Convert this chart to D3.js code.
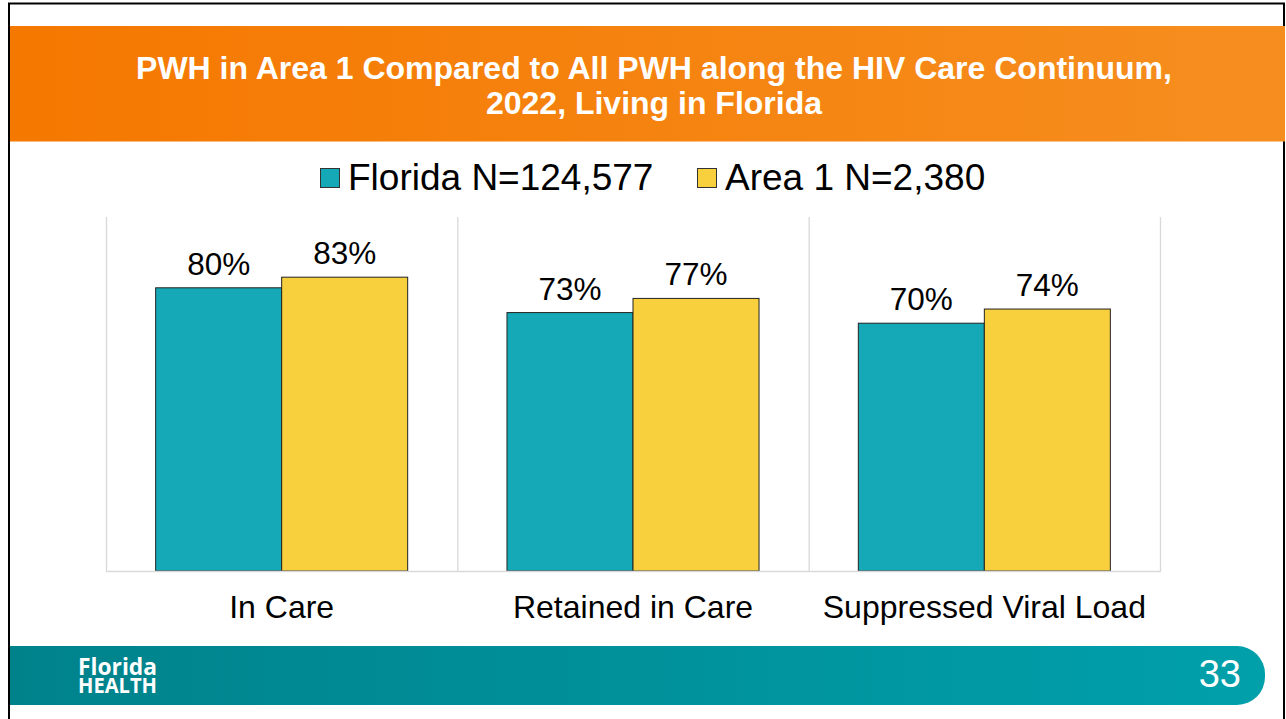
<!DOCTYPE html>
<html>
<head>
<meta charset="utf-8">
<script src="https://cdn.jsdelivr.net/npm/d3@7"></script>
<style>
  html, body { margin: 0; padding: 0; background: #fff; }
  svg { display: block; font-family: "Liberation Sans", Arial, sans-serif; }
</style>
</head>
<body>
<div id="chart"></div>
<script>
// data
const categories = ["In Care", "Retained in Care", "Suppressed Viral Load"];
const seriesNames = ["Florida N=124,577", "Area 1 N=2,380"];
const floridaValues = [80, 73, 70];
const area1Values = [83, 77, 74];
const titleLines = ["PWH in Area 1 Compared to All PWH along the HIV Care Continuum,", "2022, Living in Florida"];
const slideNumber = "33";

const width = 1286, height = 719;
const colors = ["#15A9B7", "#F8CF3D"];

const svg = d3.select("#chart").append("svg")
  .attr("width", width)
  .attr("height", height);

const defs = svg.append("defs");
const og = defs.append("linearGradient").attr("id", "orangeGrad")
  .attr("x1", "0%").attr("y1", "0%").attr("x2", "100%").attr("y2", "0%");
og.append("stop").attr("offset", "0%").attr("stop-color", "#F57800");
og.append("stop").attr("offset", "100%").attr("stop-color", "#F68E1F");
const tg = defs.append("linearGradient").attr("id", "tealGrad")
  .attr("x1", "0%").attr("y1", "0%").attr("x2", "100%").attr("y2", "0%");
tg.append("stop").attr("offset", "0%").attr("stop-color", "#00828B");
tg.append("stop").attr("offset", "100%").attr("stop-color", "#00A0AB");

// slide frame
svg.append("rect")
  .attr("x", 9).attr("y", 3.5).attr("width", 1275).attr("height", 730)
  .attr("fill", "none").attr("stroke", "#000").attr("stroke-width", 2);

// header band
svg.append("rect")
  .attr("x", 10).attr("y", 26).attr("width", 1275).attr("height", 115.5)
  .attr("fill", "url(#orangeGrad)");

svg.append("g").selectAll("text")
  .data(titleLines)
  .join("text")
  .attr("x", 654)
  .attr("y", (d, i) => 79 + i * 35)
  .attr("text-anchor", "middle")
  .attr("fill", "#fff")
  .attr("font-weight", "bold")
  .attr("font-size", 32)
  .text(d => d);

// footer band with rounded right end
const fy = 646, fh = 59, fr = 28, fx0 = 10, fx1 = 1265;
svg.append("path")
  .attr("d", `M${fx0},${fy} H${fx1 - fr} A${fr},${fr} 0 0 1 ${fx1},${fy + fr} V${fy + fh - fr} A${fr},${fr} 0 0 1 ${fx1 - fr},${fy + fh} H${fx0} Z`)
  .attr("fill", "url(#tealGrad)");

// logo, one text with two lines
const logo = svg.append("text").attr("fill", "#fff")
  .attr("font-family", "'Open Sans', sans-serif").attr("font-weight", 700);
logo.append("tspan").attr("x", 78).attr("y", 674.5)
  .attr("font-size", 22.5).attr("textLength", 79).attr("lengthAdjust", "spacingAndGlyphs")
  .text("Florida");
logo.append("tspan").attr("x", 78).attr("y", 692.5)
  .attr("font-size", 21).attr("textLength", 79).attr("lengthAdjust", "spacingAndGlyphs")
  .text("HEALTH");

svg.append("text")
  .attr("x", 1241).attr("y", 687)
  .attr("text-anchor", "end")
  .attr("fill", "#fff")
  .attr("font-size", 38)
  .text(slideNumber);

// legend
const legendX = [320, 697];
const legend = svg.append("g").selectAll("g")
  .data(seriesNames)
  .join("g")
  .attr("transform", (d, i) => `translate(${legendX[i]},0)`);
legend.append("rect")
  .attr("x", 0.5).attr("y", 168.5).attr("width", 19).attr("height", 19)
  .attr("fill", (d, i) => colors[i])
  .attr("stroke", "#333").attr("stroke-width", 1);
legend.append("text")
  .attr("x", 28).attr("y", 189.5)
  .attr("font-size", 37)
  .attr("fill", "#000")
  .text(d => d);

// chart
const plot = { left: 106, right: 1160, top: 217, bottom: 571 };

const x0 = d3.scaleBand()
  .domain(categories)
  .range([plot.left, plot.right])
  .padding(0);

const x1 = d3.scaleBand()
  .domain([0, 1])
  .range([0, x0.bandwidth()])
  .paddingInner(0)
  .paddingOuter(0.394);

const y = d3.scaleLinear()
  .domain([0, 100])
  .range([plot.bottom, plot.top]);

// vertical separators
const seps = categories.map(c => x0(c)).concat([plot.right]);
svg.append("g").selectAll("line")
  .data(seps)
  .join("line")
  .attr("x1", d => d + 0.5).attr("x2", d => d + 0.5)
  .attr("y1", plot.top).attr("y2", plot.bottom)
  .attr("stroke", "#D9D9D9").attr("stroke-width", 1.3);

const rows = categories.map((c, i) => ({ cat: c, vals: [floridaValues[i], area1Values[i]] }));

const groups = svg.append("g").selectAll("g")
  .data(rows)
  .join("g")
  .attr("transform", d => `translate(${x0(d.cat)},0)`);

groups.selectAll("rect")
  .data(d => d.vals.map((v, i) => ({ v, i })))
  .join("rect")
  .attr("x", d => x1(d.i))
  .attr("y", d => y(d.v))
  .attr("width", x1.bandwidth())
  .attr("height", d => y(0) - y(d.v))
  .attr("fill", d => colors[d.i])
  .attr("stroke", "#222").attr("stroke-width", 1);

groups.selectAll("text.amount")
  .data(d => d.vals.map((v, i) => ({ v, i })))
  .join("text")
  .attr("class", "amount")
  .attr("x", d => x1(d.i) + x1.bandwidth() / 2)
  .attr("y", d => y(d.v) - 13)
  .attr("text-anchor", "middle")
  .attr("font-size", 31.5)
  .attr("fill", "#000")
  .text(d => d.v + "%");

// baseline
svg.append("line")
  .attr("x1", plot.left).attr("x2", plot.right + 1)
  .attr("y1", plot.bottom + 0.5).attr("y2", plot.bottom + 0.5)
  .attr("stroke", "#D9D9D9").attr("stroke-width", 1.3);

// category axis
const xAxis = d3.axisBottom(x0).tickSize(0).tickPadding(0);
const axisG = svg.append("g")
  .attr("transform", `translate(0,${plot.bottom})`)
  .call(xAxis);
axisG.select(".domain").remove();
axisG.selectAll("text")
  .attr("dy", null)
  .attr("y", 46.5)
  .attr("font-size", 32)
  .attr("font-family", "'Liberation Sans', Arial, sans-serif")
  .attr("fill", "#000");
</script>
</body>
</html>
